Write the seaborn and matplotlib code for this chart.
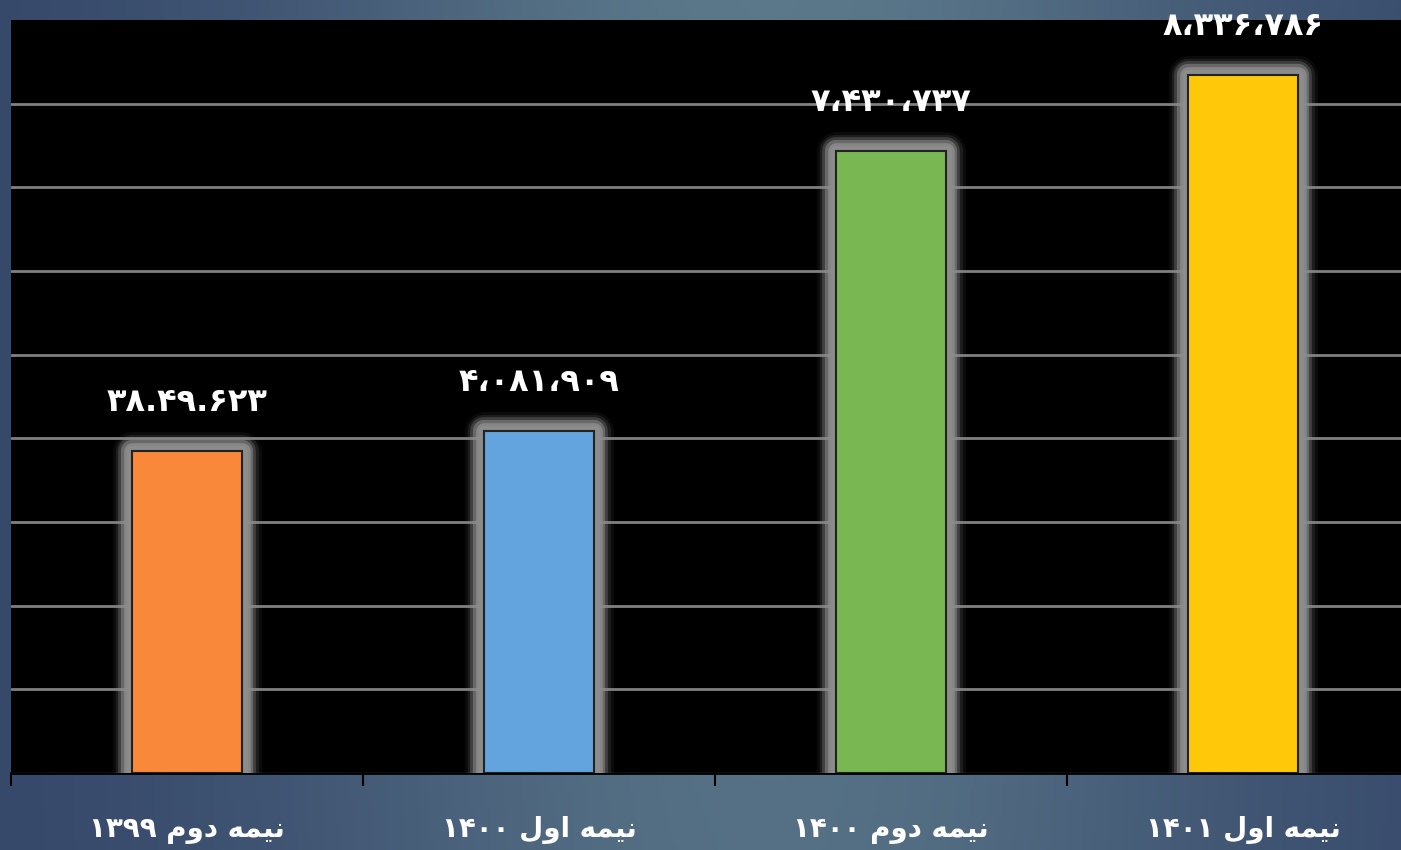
import numpy as np
import seaborn as sns
import matplotlib.pyplot as plt
import matplotlib.patheffects as pe
from matplotlib.colors import LinearSegmentedColormap

# داده ها (نیمه سال)
categories = ["نیمه دوم ۱۳۹۹", "نیمه اول ۱۴۰۰", "نیمه دوم ۱۴۰۰", "نیمه اول ۱۴۰۱"]
values = [3849623, 4081909, 7430737, 8336786]
value_labels = ["۳۸.۴۹.۶۲۳", "۴،۰۸۱،۹۰۹", "۷،۴۳۰،۷۳۷", "۸،۳۳۶،۷۸۶"]
bar_colors = ["#F9883A", "#63A4DF", "#79B753", "#FFC90A"]

# matplotlib ne fait pas le shaping arabe : formes de présentation en ordre visuel
shaped = {
    "نیمه": "\uFEEA\uFEE4\uFBFF\uFEE7",
    "دوم": "\uFEE1\uFEED\uFEA9",
    "اول": "\uFEDD\uFEED\uFE8D",
}


def visual(label):
    words = label.split(" ")
    out = []
    for w in reversed(words):
        out.append(shaped.get(w, w))
    return " ".join(out)


tick_labels = [visual(c) for c in categories]

sns.set_theme(style="dark")
plt.rcParams['font.family'] = ['DejaVu Sans']

fig = plt.figure(figsize=(14.01, 8.5), dpi=100)

# fond dégradé bleu-gris
bg = fig.add_axes([0, 0, 1, 1], zorder=-10)
xx = np.linspace(0, 1, 400)
yy = np.linspace(0, 1, 250)
X, Y = np.meshgrid(xx, yy)
t = np.exp(-((X - 0.55) ** 2) / 0.12) * (0.85 + 0.15 * Y)
bg_cmap = LinearSegmentedColormap.from_list("bg", ["#37496b", "#5b788a"])
bg.imshow(t, cmap=bg_cmap, aspect="auto", extent=[0, 1, 0, 1], origin="lower")
bg.set_axis_off()

# zone du graphique (déborde à droite comme l'original)
ax = fig.add_axes([11 / 1401, 77 / 850, 1408 / 1401, 753 / 850])
ax.set_facecolor("black")

sns.barplot(x=categories, y=values, hue=categories, palette=bar_colors,
            saturation=1, width=0.315, legend=False, ax=ax, zorder=3,
            edgecolor="#222222", linewidth=1.5)

# halo gris autour des barres
glow = [pe.Stroke(linewidth=w, foreground="#8c8c8c", alpha=a, joinstyle="round")
        for w, a in [(28, 0.08), (24, 0.15), (20, 0.3), (16, 0.55), (12, 0.85), (8, 1.0)]]
for p in ax.patches:
    p.set_path_effects(glow + [pe.Normal()])

# étiquettes des valeurs
for i, (v, lab) in enumerate(zip(values, value_labels)):
    ax.annotate(lab, (i, v), xytext=(0, 35), textcoords="offset points",
                ha="center", va="center", color="white", fontsize=23,
                fontweight="bold", zorder=5, annotation_clip=False)

ax.set_ylim(0, 9000000)
ax.set_xlim(-0.5, 3.5)
ax.set_yticks(np.arange(0, 8000001, 1000000))
ax.set_yticklabels([])
ax.grid(axis="y", color="#808080", linewidth=2, zorder=0)
ax.grid(axis="x", visible=False)
ax.set_axisbelow(True)

ax.set_xticks(range(4))
ax.set_xticklabels(tick_labels, color="white", fontsize=20, fontweight="bold")
ax.set_xticks([-0.5, 0.5, 1.5, 2.5, 3.5], minor=True)
ax.tick_params(axis="x", which="major", length=0, pad=31)
ax.tick_params(axis="x", which="minor", length=9, width=1.5, color="black",
               direction="out", bottom=True)
ax.tick_params(axis="y", length=0)
ax.set_xlabel("")
ax.set_ylabel("")

for side in ["top", "right", "left"]:
    ax.spines[side].set_visible(False)
ax.spines["bottom"].set_color("black")
ax.spines["bottom"].set_linewidth(2)

fig.savefig("out.png", dpi=100)
